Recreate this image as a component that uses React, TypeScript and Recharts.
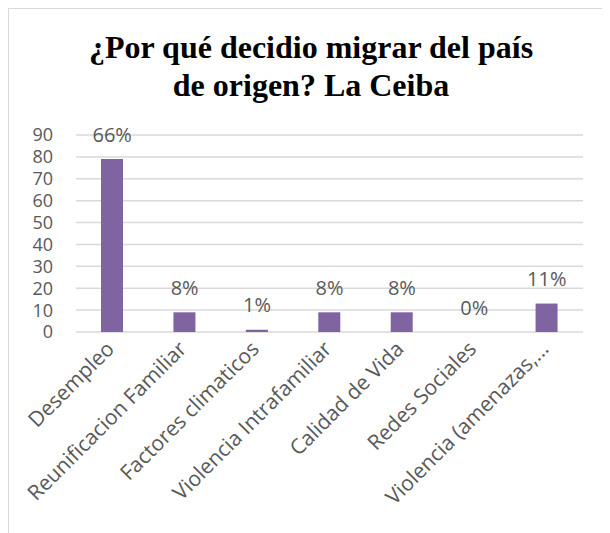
import { ComposedChart, Bar, Line, XAxis, YAxis, CartesianGrid } from 'recharts';

// razones de migración - La Ceiba
const categorias = [
	'Desempleo',
	'Reunificacion Familiar',
	'Factores climaticos',
	'Violencia Intrafamiliar',
	'Calidad de Vida',
	'Redes Sociales',
	'Violencia (amenazas,...',
];
const cantidades = [79, 9, 1, 9, 9, 0, 13];
const porcentajes = ['66%', '8%', '1%', '8%', '8%', '0%', '11%'];
const ticksY = [0, 10, 20, 30, 40, 50, 60, 70, 80, 90];

const data = categorias.map((nombre, i) => ({
	nombre,
	valor: cantidades[i],
	pct: porcentajes[i],
}));

const FONT = '"Open Sans", sans-serif';
const GRIS = '#595959';

const TickX = ({ x, y, payload }: any) => (
	<g transform={`translate(${x - 2},${y + 5})`}>
		<text
			transform="rotate(-45)"
			textAnchor="end"
			fill={GRIS}
			fontSize={21}
			fontFamily={FONT}
			dy="0.35em"
		>
			{payload.value}
		</text>
	</g>
);

// etiqueta de porcentaje encima de cada barra (incluye la de valor 0)
const EtiquetaPct = ({ cx, cy, payload }: any) => (
	<text
		key={payload.nombre}
		x={cx}
		y={cy - 25}
		textAnchor="middle"
		dominantBaseline="central"
		fill={GRIS}
		fontSize={20}
		fontFamily={FONT}
	>
		{payload.pct}
	</text>
);

export default function App() {
	return (
		<div
			style={{
				position: 'relative',
				width: 601,
				height: 524,
				borderTop: '1px solid #d9d9d9',
				borderLeft: '1px solid #d9d9d9',
				overflow: 'hidden',
			}}
		>
			<div
				style={{
					position: 'absolute',
					top: 19,
					left: 0,
					width: 604,
					textAlign: 'center',
					fontFamily: '"Liberation Serif", serif',
					fontWeight: 'bold',
					fontSize: 32,
					lineHeight: '38px',
					color: '#000',
				}}
			>
				¿Por qué decidio migrar del país
				<br />
				de origen? La Ceiba
			</div>
			<ComposedChart
				width={600}
				height={524}
				data={data}
				margin={{ top: 126, right: 26, bottom: 1, left: 0 }}
				barSize={22}
			>
				<CartesianGrid vertical={false} stroke="#d9d9d9" strokeWidth={1.5} />
				<XAxis
					dataKey="nombre"
					axisLine={false}
					tickLine={false}
					interval={0}
					height={200}
					tick={<TickX />}
				/>
				<YAxis
					domain={[0, 90]}
					ticks={ticksY}
					interval={0}
					width={67}
					axisLine={false}
					tickLine={false}
					tickSize={0}
					tickMargin={23}
					tick={{ fill: GRIS, fontSize: 18, fontFamily: FONT }}
				/>
				<Bar dataKey="valor" fill="#8064a2" isAnimationActive={false} />
				<Line
					dataKey="valor"
					stroke="none"
					strokeWidth={0}
					dot={<EtiquetaPct />}
					activeDot={false}
					isAnimationActive={false}
				/>
			</ComposedChart>
		</div>
	);
}
